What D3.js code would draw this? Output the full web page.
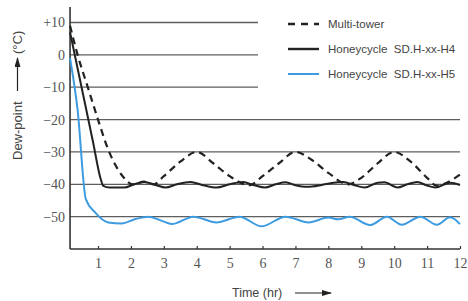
<!DOCTYPE html>
<html>
<head>
<meta charset="utf-8">
<script src="https://cdn.jsdelivr.net/npm/d3@7"></script>
<style>
  body { margin: 0; background: #fff; }
  svg { display: block; }
  .legend-text { white-space: pre; }
</style>
</head>
<body>
<div id="chart"></div>
<script>
// values (time in hours, dew point in deg C)
const multiTower = [
  [0.15, 9], [0.38, 0], [0.69, -10], [1.0, -20], [1.3, -29], [1.5, -33.5], [1.75, -37.5],
  [2.05, -40], [2.4, -39.2], [2.7, -40], [3.0, -37.5], [3.5, -33], [4.0, -30], [4.5, -33.5],
  [5.0, -37.5], [5.6, -40.3], [6.0, -37.5], [6.5, -33.5], [7.0, -30], [7.5, -32.5],
  [8.0, -36.5], [8.6, -40], [9.0, -38], [9.5, -33.5], [10.0, -30], [10.5, -33],
  [11.0, -38], [11.3, -40.5], [11.6, -39.5], [12.0, -37]
];
const honeycycleH4 = [
  [0.15, 7], [0.5, -10], [0.85, -27], [1.08, -38.3], [1.16, -40.5], [1.35, -41], [1.8, -41],
  [2.1, -40], [2.4, -39.3], [2.75, -40.2],
  [3.05, -41], [3.4, -40], [3.8, -39.3], [4.2, -40.3], [4.6, -41], [5.0, -40], [5.4, -39.3],
  [5.75, -40.3], [6.07, -41], [6.4, -40], [6.7, -39.4], [7.0, -40.3], [7.35, -40.8],
  [7.8, -40.2], [8.1, -39.6], [8.45, -39.3], [8.8, -40.3], [9.1, -41], [9.5, -39.5],
  [9.7, -39.4], [10.1, -41], [10.4, -40], [10.7, -39.3], [11.0, -40.4], [11.25, -41],
  [11.7, -39.5], [12.0, -40.2]
];
const honeycycleH5 = [
  [0.15, -1], [0.38, -17], [0.63, -44.6], [0.91, -48.7], [1.31, -51.8], [1.72, -52.1],
  [2.12, -50.8], [2.53, -50], [2.94, -51.3], [3.24, -52.3], [3.9, -50], [4.6, -51.8],
  [5.3, -50], [5.97, -53], [6.7, -50], [7.4, -51.8], [8.0, -50.3], [8.3, -50.8],
  [8.65, -50], [9.27, -52.6], [9.78, -50], [10.23, -52.5], [10.8, -50], [11.3, -52.5],
  [11.7, -50.2], [12.0, -52.3]
];
const xTicks = [1, 2, 3, 4, 5, 6, 7, 8, 9, 10, 11, 12];
const yTicks = [10, 0, -10, -20, -30, -40, -50];
const yTickLabels = ["+10", "0", "\u221210", "\u221220", "\u221230", "\u221240", "\u221250"];
const legendLabels = ["Multi-tower", "Honeycycle  SD.H-xx-H4", "Honeycycle  SD.H-xx-H5"];

const width = 468, height = 301;
const tStart = 0.15;

const svg = d3.select("#chart").append("svg")
  .attr("width", width).attr("height", height);

const x = d3.scaleLinear().domain([0, 12]).range([65.1, 460]);
const y = d3.scaleLinear().domain([-60, 10]).range([249, 22.5]);

// grid lines (top three stop short where the legend sits)
svg.selectAll(".grid").data(yTicks).enter().append("line")
  .attr("x1", x(tStart))
  .attr("x2", d => d >= -10 ? 258 : x(12))
  .attr("y1", d => y(d)).attr("y2", d => y(d))
  .attr("stroke", "#5e5e5e").attr("stroke-width", 1.3);

// axes
const xAxis = d3.axisBottom(x).tickValues(xTicks).tickSize(-3).tickPadding(9).tickFormat(d3.format("d"));
const gx = svg.append("g").attr("transform", `translate(0,${y(-60)})`).call(xAxis);
gx.select(".domain").attr("d", `M${x(tStart)},0H${x(12)}`).attr("stroke", "#333").attr("stroke-width", 1.6);
gx.selectAll(".tick line").attr("stroke", "#333").attr("stroke-width", 1.2);
gx.selectAll(".tick text")
  .attr("font-family", "'Liberation Serif', serif").attr("font-size", 14).attr("fill", "#555");

const yAxis = d3.axisLeft(y).tickValues(yTicks).tickSize(0).tickPadding(5)
  .tickFormat((d, i) => yTickLabels[i]);
const gy = svg.append("g").attr("transform", `translate(${x(tStart)},0)`).call(yAxis);
gy.select(".domain").attr("d", `M0,7V${y(-60)}`).attr("stroke", "#333").attr("stroke-width", 1.6);
gy.selectAll(".tick text")
  .attr("font-family", "'Liberation Serif', serif").attr("font-size", 14).attr("fill", "#555");

// series
const line = d3.line().x(d => x(d[0])).y(d => y(d[1])).curve(d3.curveMonotoneX);

svg.append("path").datum(honeycycleH5).attr("d", line)
  .attr("fill", "none").attr("stroke", "#3d9be0").attr("stroke-width", 2);
svg.append("path").datum(honeycycleH4).attr("d", line)
  .attr("fill", "none").attr("stroke", "#222").attr("stroke-width", 2);
svg.append("path").datum(multiTower).attr("d", line)
  .attr("fill", "none").attr("stroke", "#222").attr("stroke-width", 2.2)
  .attr("stroke-dasharray", "7,5");

// legend
const legendStyles = [
  { color: "#222", dash: "7,6", width: 2.4 },
  { color: "#222", dash: null, width: 2.4 },
  { color: "#3d9be0", dash: null, width: 2 }
];
const legend = svg.append("g").attr("transform", "translate(288,24)");
legendLabels.forEach((label, i) => {
  const g = legend.append("g").attr("transform", `translate(0,${i * 25})`);
  g.append("line").attr("x1", 0).attr("x2", 31).attr("y1", 0).attr("y2", 0)
    .attr("stroke", legendStyles[i].color).attr("stroke-width", legendStyles[i].width)
    .attr("stroke-dasharray", legendStyles[i].dash);
  g.append("text").attr("class", "legend-text").attr("x", 40).attr("y", 0).attr("dy", "0.35em")
    .attr("font-family", "'Liberation Sans', Arial, sans-serif").attr("font-size", 11.5)
    .attr("fill", "#444").text(label);
});

// axis titles
svg.append("defs").append("marker")
  .attr("id", "arrow").attr("viewBox", "0 0 10 6").attr("refX", 9).attr("refY", 3)
  .attr("markerWidth", 10).attr("markerHeight", 6).attr("markerUnits", "userSpaceOnUse")
  .attr("orient", "auto")
  .append("path").attr("d", "M0,0L10,3L0,6Z").attr("fill", "#222");

svg.append("text")
  .attr("x", 232).attr("y", 297)
  .attr("font-family", "'Liberation Sans', Arial, sans-serif").attr("font-size", 12.5)
  .attr("fill", "#444").text("Time (hr)");
svg.append("line").attr("x1", 295).attr("x2", 331).attr("y1", 293).attr("y2", 293)
  .attr("stroke", "#222").attr("stroke-width", 1.2).attr("marker-end", "url(#arrow)");

const yTitle = svg.append("g").attr("transform", "translate(22,160) rotate(-90)");
yTitle.append("text").attr("x", 0).attr("y", 0)
  .attr("font-family", "'Liberation Sans', Arial, sans-serif").attr("font-size", 13)
  .attr("fill", "#444").text("Dew-point");
yTitle.append("line").attr("x1", 69).attr("x2", 102).attr("y1", -4.5).attr("y2", -4.5)
  .attr("stroke", "#222").attr("stroke-width", 1.2).attr("marker-end", "url(#arrow)");
yTitle.append("text").attr("x", 106).attr("y", 0)
  .attr("font-family", "'Liberation Sans', Arial, sans-serif").attr("font-size", 13)
  .attr("fill", "#444").text("(\u00b0C)");
</script>
</body>
</html>
